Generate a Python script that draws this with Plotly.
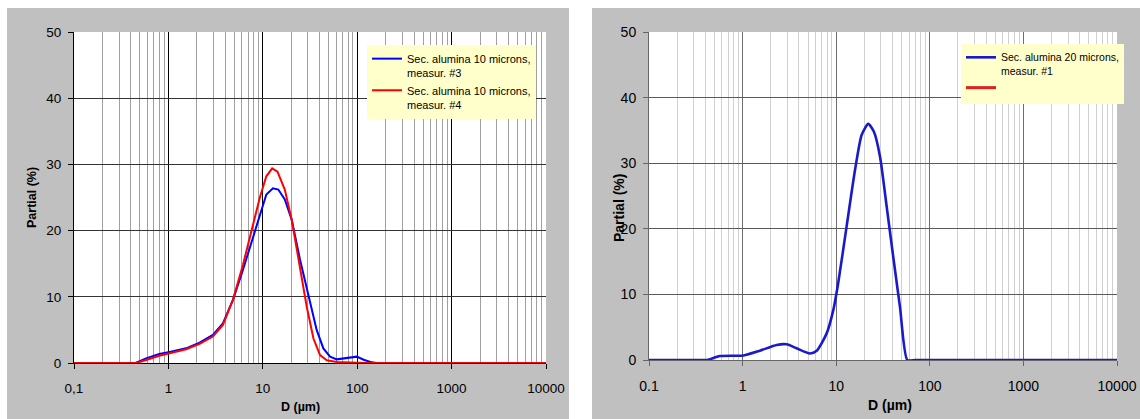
import plotly.graph_objects as go

# ---------------- data ----------------
# Left panel: Sec. alumina 10 microns
left_blue_x = [0.1, 0.45, 0.58, 0.80, 1.03, 1.54, 2.14, 2.96, 3.78, 4.83, 6.17, 7.88, 10.1, 10.9,
               12.8, 14.6, 17.1, 20.2, 24.8, 30.4, 37.2, 43.8, 51.6, 60.8, 77.6, 99, 117, 143, 160, 10000]
left_blue_y = [0, 0, 0.7, 1.36, 1.67, 2.22, 3.08, 4.24, 6.0, 9.55, 14.1, 19.1, 24.2, 25.45,
               26.4, 26.2, 24.7, 21.7, 15.6, 10.05, 5.0, 2.2, 0.96, 0.55, 0.7, 0.96, 0.5, 0.1, 0, 0]

left_red_x = [0.1, 0.46, 0.58, 0.80, 1.03, 1.54, 2.14, 2.96, 3.78, 4.83, 6.17, 7.88, 9.29, 10.9,
              12.57, 14.3, 17.1, 20.2, 24.8, 29.2, 34.4, 40.4, 47.6, 60.8, 99, 130, 10000]
left_red_y = [0, 0, 0.45, 1.1, 1.46, 2.07, 2.88, 4.0, 5.76, 9.55, 14.85, 20.65, 24.95, 28.2,
              29.4, 28.9, 26.2, 21.7, 14.6, 8.5, 3.7, 1.2, 0.4, 0.15, 0.05, 0, 0]

# Right panel: Sec. alumina 20 microns
right_blue_x = [0.1, 0.35, 0.42, 0.57, 1.02, 1.53, 2.31, 2.96, 3.78, 5.25, 6.19, 7.91, 9.31, 10.5,
                12.9, 15.9, 18.7, 22.0, 25.3, 29.4, 34.6, 40.7, 48.0, 57.5, 70, 200, 10000]
right_blue_y = [0, 0, 0, 0.6, 0.7, 1.42, 2.29, 2.39, 1.78, 1.0, 1.42, 4.06, 7.6, 11.7,
                20.3, 29.0, 34.3, 36.0, 34.8, 31.0, 23.4, 15.7, 8.1, 0, 0, 0, 0]

names_left = ["Sec. alumina 10 microns,<br>measur. #3", "Sec. alumina 10 microns,<br>measur. #4"]
names_right = ["Sec. alumina 20 microns,<br>measur. #1", ""]

major_ticks = [0.1, 1, 10, 100, 1000, 10000]
left_tick_text = ["0,1", "1", "10", "100", "1000", "10000"]
right_tick_text = ["0.1", "1", "10", "100", "1000", "10000"]
minor_ticks = [m * d for d in [0.1, 1, 10, 100, 1000] for m in range(2, 10)]
y_ticks = [0, 10, 20, 30, 40, 50]

W, H = 1140, 419
FONT = "Arial, Liberation Sans, sans-serif"

fig = go.Figure()
fig.add_trace(go.Scatter(x=left_blue_x, y=left_blue_y, mode="lines", name=names_left[0],
                         line=dict(color="#0000FF", width=2), xaxis="x", yaxis="y", legend="legend"))
fig.add_trace(go.Scatter(x=left_red_x, y=left_red_y, mode="lines", name=names_left[1],
                         line=dict(color="#FF0000", width=2), xaxis="x", yaxis="y", legend="legend"))
fig.add_trace(go.Scatter(x=right_blue_x, y=right_blue_y, mode="lines", name=names_right[0],
                         line=dict(color="#1A1ACC", width=2.6, shape="spline", smoothing=0.6),
                         xaxis="x2", yaxis="y2", legend="legend2"))
fig.add_trace(go.Scatter(x=[None], y=[None], mode="lines", name=names_right[1],
                         line=dict(color="#E02020", width=3), xaxis="x2", yaxis="y2", legend="legend2"))


def px_x(v):
    return v / W


def px_y(v):
    return 1 - v / H


def xaxis_cfg(dom, ticktext, major_col, minor_col, line_col, size):
    return dict(domain=dom, type="log", range=[-1, 4], tickmode="array", tickvals=major_ticks,
                ticktext=ticktext, ticks="outside", ticklen=5, tickcolor=line_col,
                showline=True, linecolor=line_col, linewidth=1, automargin=False,
                showgrid=True, gridcolor=major_col, gridwidth=1, zeroline=False,
                minor=dict(tickmode="array", tickvals=minor_ticks, showgrid=True,
                           gridcolor=minor_col, gridwidth=1, ticks=""),
                tickfont=dict(family=FONT, size=size, color="black"),
                ticklabelstandoff=8)


def yaxis_cfg(dom, grid_col, line_col, size):
    return dict(domain=dom, range=[0, 50], tickmode="array", tickvals=y_ticks,
                ticks="outside", ticklen=5, tickcolor=line_col,
                showline=True, linecolor=line_col, linewidth=1, automargin=False,
                showgrid=True, gridcolor=grid_col, gridwidth=1, zeroline=False,
                tickfont=dict(family=FONT, size=size, color="black"),
                ticklabelstandoff=4)


def title_ann(text, x, y, size, angle=0):
    return dict(text=f"<b>{text}</b>", x=px_x(x), y=px_y(y), xref="paper", yref="paper",
                xanchor="center", yanchor="middle", textangle=angle, showarrow=False,
                font=dict(family=FONT, size=size, color="black"))


fig.update_layout(
    width=W, height=H, margin=dict(l=0, r=0, t=0, b=0, autoexpand=False),
    paper_bgcolor="white", plot_bgcolor="white",
    showlegend=True,
    xaxis=dict(xaxis_cfg([px_x(74), px_x(546)], left_tick_text, "#000000", "#A0A0A0", "black", 13.5), anchor="y"),
    yaxis=dict(yaxis_cfg([px_y(363), px_y(32)], "#333333", "black", 13.5), anchor="x"),
    xaxis2=dict(xaxis_cfg([px_x(649), px_x(1117)], right_tick_text, "#6E6E6E", "#D0D0D0", "#666666", 14), anchor="y2"),
    yaxis2=dict(yaxis_cfg([px_y(360), px_y(32)], "#5A5A5A", "#666666", 14), anchor="x2"),
    legend=dict(x=px_x(367), y=px_y(45), xanchor="left", yanchor="top",
                bgcolor="#FFFFCC", borderwidth=0, valign="top", tracegroupgap=2,
                font=dict(family=FONT, size=11, color="black")),
    legend2=dict(x=px_x(961), y=px_y(44), xanchor="left", yanchor="top",
                 bgcolor="#FFFFCC", borderwidth=0, valign="top", tracegroupgap=2,
                 font=dict(family=FONT, size=10.5, color="black")),
    shapes=[
        dict(type="rect", xref="paper", yref="paper", x0=px_x(7), x1=px_x(569), y0=0, y1=px_y(8),
             fillcolor="#C0C0C0", line=dict(width=0), layer="below"),
        dict(type="rect", xref="paper", yref="paper", x0=px_x(592), x1=1, y0=0, y1=px_y(8),
             fillcolor="#C0C0C0", line=dict(width=0), layer="below"),
        dict(type="rect", xref="x domain", yref="y domain", x0=0, x1=1, y0=0, y1=1,
             fillcolor="white", line=dict(width=0), layer="below"),
        dict(type="rect", xref="x2 domain", yref="y2 domain", x0=0, x1=1, y0=0, y1=1,
             fillcolor="white", line=dict(width=0), layer="below"),
    ],
    annotations=[
        title_ann("Partial (%)", 32, 198, 12.5, -90),
        title_ann("D (µm)", 300, 407, 12.5),
        title_ann("Partial (%)", 619, 208, 14, -90),
        title_ann("D (µm)", 890, 405, 14),
    ],
)

fig.write_html("out.html")
